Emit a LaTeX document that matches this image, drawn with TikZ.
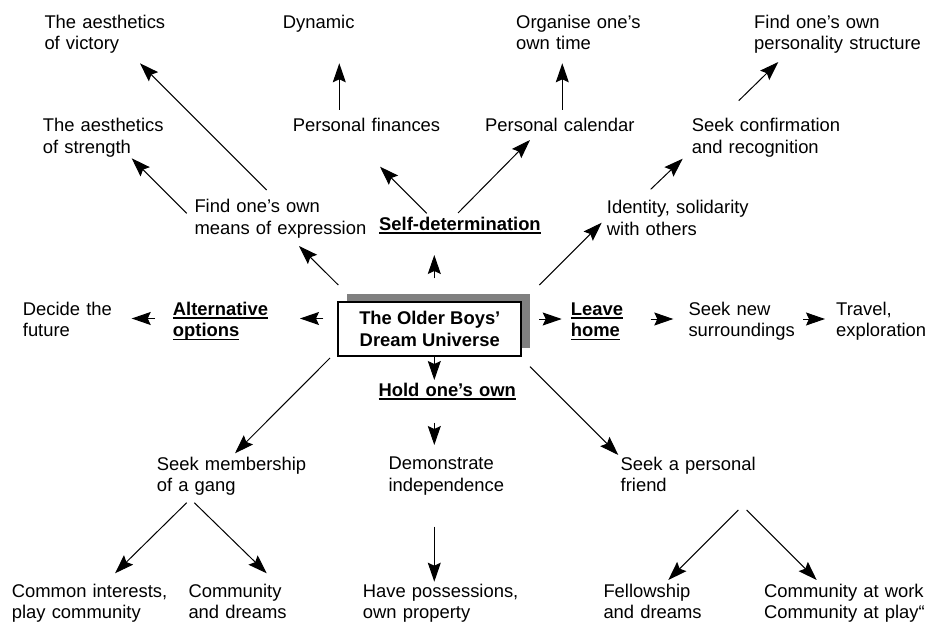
\documentclass[tikz,border=0pt]{standalone}
\usepackage{fontspec}
\setmainfont{Liberation Sans}
\usetikzlibrary{arrows.meta,shadows}

% bold heading with an underline set just below the baseline
\newcommand\ulb[1]{\leavevmode\setbox0\hbox{#1}\rlap{\vrule width\wd0 height -2pt depth 3.6pt}\box0}

\tikzset{
  lbl/.style={anchor=base west, inner sep=0pt, text width=200pt, align=left,
    font=\fontsize{18.4}{21.7}\selectfont},
  head/.style={lbl, font=\fontsize{18.4}{21.7}\selectfont\bfseries},
  arr/.style={-{Stealth[length=19pt,width=13pt,inset=3pt]}, line width=1pt},
  core/.style={draw, line width=2pt, fill=white, minimum width=183pt,
    minimum height=54.3pt, align=center, inner sep=0pt,
    font=\fontsize{18.4}{21.7}\selectfont\bfseries,
    drop shadow={shadow xshift=8.7pt, shadow yshift=8.3pt, fill=gray, opacity=1}}
}

\begin{document}
\begin{tikzpicture}[x=1pt, y=-1pt]
\fill[white] (0,0) rectangle (929,623);
\useasboundingbox (0,0) rectangle (929,623);

% centre
\node[core] (core) at (429.8,329.2) {The Older Boys’\\Dream Universe};

% top rows
\node[lbl] (victory) at (44.3,28.3) {The aesthetics\\of victory};
\node[lbl] (dynamic) at (282.7,28.3) {Dynamic};
\node[lbl] (organise) at (516,28.3) {Organise one’s\\own time};
\node[lbl] (personality) at (754,28.3) {Find one’s own\\personality structure};
\node[lbl] (strength) at (42.7,131.7) {The aesthetics\\of strength};
\node[lbl] (finances) at (292.7,131.7) {Personal finances};
\node[lbl] (calendar) at (485,131.7) {Personal calendar};
\node[lbl] (confirm) at (691.7,131.7) {Seek confirmation\\and recognition};
\node[lbl] (express) at (194.3,212.7) {Find one’s own\\means of expression};
\node[head] (selfdet) at (379,230) {\ulb{Self-determination}};
\node[lbl] (identity) at (606.7,213.3) {Identity, solidarity\\with others};

% middle row
\node[lbl] (decide) at (22.7,315) {Decide the\\future};
\node[head] (altern) at (172.7,315) {\ulb{Alternative}\\\ulb{options}};
\node[head] (leave) at (570.7,315) {\ulb{Leave}\\\ulb{home}};
\node[lbl] (seeknew) at (688.3,315) {Seek new\\surroundings};
\node[lbl] (travel) at (836,315) {Travel,\\exploration};

% lower rows
\node[head] (hold) at (378.3,396) {\ulb{Hold one’s own}};
\node[lbl] (gang) at (156.7,470) {Seek membership\\of a gang};
\node[lbl] (demo) at (388.3,469.3) {Demonstrate\\independence};
\node[lbl] (friend) at (620.5,470) {Seek a personal\\friend};
\node[lbl] (common) at (11.7,597) {Common interests,\\play community};
\node[lbl] (commdream) at (188.3,597) {Community\\and dreams};
\node[lbl] (possess) at (362.7,597) {Have possessions,\\own property};
\node[lbl] (fellow) at (603.3,597) {Fellowship\\and dreams};
\node[lbl] (commwork) at (764,597) {Community at work\\Community at play“};

% connector ends
\coordinate (express-s) at (186.7,213.3);  \coordinate (strength-e) at (131.7,158.3);
\coordinate (express-v) at (266.7,190);    \coordinate (victory-e) at (140,63.3);
\coordinate (finances-s) at (339.3,110);   \coordinate (dynamic-e) at (339.3,63.3);
\coordinate (selfdet-f) at (426.7,213.3);  \coordinate (finances-e) at (380,166.7);
\coordinate (selfdet-c) at (458,213);      \coordinate (calendar-e) at (530,140);
\coordinate (calendar-s) at (562.3,110);   \coordinate (organise-e) at (562.3,63.3);
\coordinate (identity-s) at (650.7,189.3); \coordinate (confirm-e) at (682.7,158.7);
\coordinate (confirm-s) at (738.7,100.7);  \coordinate (personality-e) at (778.3,62);
\coordinate (core-ne) at (539.3,285);      \coordinate (identity-e) at (601.7,222.7);
\coordinate (core-nw) at (338.3,285);      \coordinate (express-e) at (299,246);
\coordinate (core-n) at (434.3,278.3);     \coordinate (selfdet-e) at (434.3,255);
\coordinate (core-w) at (323.3,318.5);     \coordinate (altern-e) at (300,318.5);
\coordinate (altern-s) at (155,318.5);     \coordinate (decide-e) at (131.7,318.5);
\coordinate (core-e) at (539.3,319);       \coordinate (leave-e) at (561.7,319);
\coordinate (leave-s) at (650.7,319);      \coordinate (seeknew-e) at (673.3,319);
\coordinate (seeknew-s) at (803.3,319);    \coordinate (travel-e) at (825,319);
\coordinate (core-s) at (434.3,357.3);     \coordinate (hold-e) at (434.3,380);
\coordinate (hold-s) at (434.3,422.7);     \coordinate (demo-e) at (434.3,445);
\coordinate (demo-s) at (434.3,526.7);     \coordinate (possess-e) at (434.3,581.7);
\coordinate (core-sw) at (330,358);        \coordinate (gang-e) at (235,453.3);
\coordinate (core-se) at (530,366.7);      \coordinate (friend-e) at (618.3,455);
\coordinate (gang-l) at (186.7,502.7);     \coordinate (common-e) at (115,573.3);
\coordinate (gang-r) at (194.3,502.7);     \coordinate (commdream-e) at (266.7,573.3);
\coordinate (friend-l) at (738.3,510);     \coordinate (fellow-e) at (668.3,580);
\coordinate (friend-r) at (746.7,510);     \coordinate (commwork-e) at (816.7,580);

% connectors
\draw[arr] (express-s) -- (strength-e);
\draw[arr] (express-v) -- (victory-e);
\draw[arr] (finances-s) -- (dynamic-e);
\draw[arr] (selfdet-f) -- (finances-e);
\draw[arr] (selfdet-c) -- (calendar-e);
\draw[arr] (calendar-s) -- (organise-e);
\draw[arr] (identity-s) -- (confirm-e);
\draw[arr] (confirm-s) -- (personality-e);
\draw[arr] (core-ne) -- (identity-e);
\draw[arr] (core-nw) -- (express-e);
\draw[arr] (core-n) -- (selfdet-e);
\draw[arr] (core-w) -- (altern-e);
\draw[arr] (altern-s) -- (decide-e);
\draw[arr] (core-e) -- (leave-e);
\draw[arr] (leave-s) -- (seeknew-e);
\draw[arr] (seeknew-s) -- (travel-e);
\draw[arr] (core-s) -- (hold-e);
\draw[arr] (hold-s) -- (demo-e);
\draw[arr] (demo-s) -- (possess-e);
\draw[arr] (core-sw) -- (gang-e);
\draw[arr] (core-se) -- (friend-e);
\draw[arr] (gang-l) -- (common-e);
\draw[arr] (gang-r) -- (commdream-e);
\draw[arr] (friend-l) -- (fellow-e);
\draw[arr] (friend-r) -- (commwork-e);
\end{tikzpicture}
\end{document}
